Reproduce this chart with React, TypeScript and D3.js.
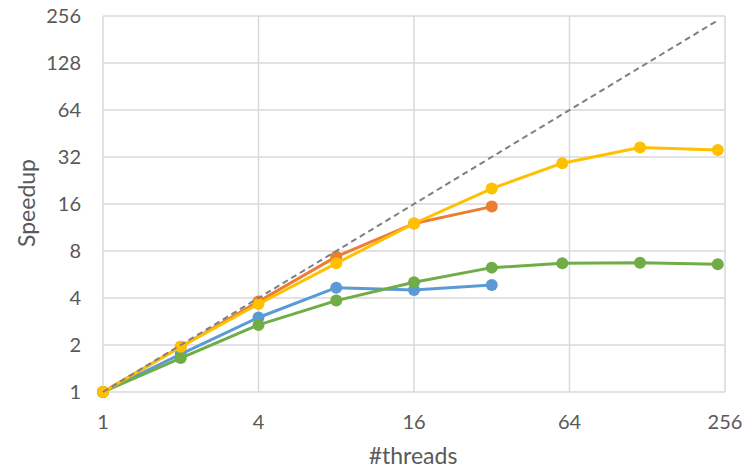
import React, { useEffect, useRef } from 'react';
import * as d3 from 'd3';

// thread counts on the x axis
const threads = [1, 2, 4, 8, 16, 32, 60, 120, 240];
const xTicks = [1, 4, 16, 64, 256];
const yTicks = [1, 2, 4, 8, 16, 32, 64, 128, 256];

// speedup series
const blueSpeedup = [1, 1.75, 3.0, 4.66, 4.5, 4.85];
const orangeSpeedup = [1, 1.95, 3.8, 7.36, 12.0, 15.4];
const greenSpeedup = [1, 1.65, 2.69, 3.85, 5.04, 6.26, 6.67, 6.73, 6.57];
const yellowSpeedup = [1, 1.95, 3.66, 6.67, 12.0, 20.1, 29.2, 36.8, 35.5];
const idealSpeedup = [1, 2, 4, 8, 16, 32, 60, 120, 240];

const seriesList = [
  { name: 'blue', values: blueSpeedup, color: '#5B9BD5' },
  { name: 'orange', values: orangeSpeedup, color: '#ED7D31' },
  { name: 'green', values: greenSpeedup, color: '#70AD47' },
  { name: 'yellow', values: yellowSpeedup, color: '#FFC000' },
];

const W = 745;
const H = 469;
const FONT = 'Lato, "Open Sans", sans-serif';
const TEXT = '#595959';

export default function App() {
  const ref = useRef<SVGSVGElement>(null);

  useEffect(() => {
    const svg = d3.select(ref.current);
    svg.selectAll('*').remove();

    // 绘图区
    const left = 103;
    const right = 725;
    const top = 16;
    const bottom = 392;

    const x = d3.scaleLog().base(2).domain([1, 256]).range([left, right]);
    const y = d3.scaleLog().base(2).domain([1, 256]).range([bottom, top]);

    // 网格
    const grid = svg.append('g');
    grid
      .selectAll('line.h')
      .data(yTicks)
      .enter()
      .append('line')
      .attr('x1', left)
      .attr('x2', right)
      .attr('y1', (d) => y(d))
      .attr('y2', (d) => y(d))
      .attr('stroke', '#d9d9d9')
      .attr('stroke-width', 1.5);
    grid
      .selectAll('line.v')
      .data(xTicks)
      .enter()
      .append('line')
      .attr('x1', (d) => x(d))
      .attr('x2', (d) => x(d))
      .attr('y1', top)
      .attr('y2', bottom)
      .attr('stroke', '#d9d9d9')
      .attr('stroke-width', 1.5);

    // 刻度文字
    svg
      .append('g')
      .selectAll('text')
      .data(yTicks)
      .enter()
      .append('text')
      .attr('x', 81)
      .attr('y', (d) => y(d))
      .attr('dy', '0.35em')
      .attr('text-anchor', 'end')
      .attr('fill', TEXT)
      .style('font-family', FONT)
      .style('font-size', '20px')
      .text((d) => d);

    svg
      .append('g')
      .selectAll('text')
      .data(xTicks)
      .enter()
      .append('text')
      .attr('x', (d) => x(d))
      .attr('y', 422)
      .attr('dy', '0.35em')
      .attr('text-anchor', 'middle')
      .attr('fill', TEXT)
      .style('font-family', FONT)
      .style('font-size', '20px')
      .text((d) => d);

    // 轴标题
    svg
      .append('text')
      .attr('x', 413)
      .attr('y', 456)
      .attr('dy', '0.35em')
      .attr('text-anchor', 'middle')
      .attr('fill', TEXT)
      .style('font-family', FONT)
      .style('font-size', '23px')
      .text('#threads');

    svg
      .append('text')
      .attr('transform', 'translate(27, 203) rotate(-90)')
      .attr('dy', '0.35em')
      .attr('text-anchor', 'middle')
      .attr('fill', TEXT)
      .style('font-family', FONT)
      .style('font-size', '23px')
      .text('Speedup');

    const line = d3
      .line<number>()
      .x((d, i) => x(threads[i]))
      .y((d) => y(d));

    // 各系列
    seriesList.forEach((s) => {
      const g = svg.append('g');
      g.append('path')
        .datum(s.values)
        .attr('d', line)
        .attr('fill', 'none')
        .attr('stroke', s.color)
        .attr('stroke-width', 3)
        .attr('stroke-linejoin', 'round');
      g.selectAll('circle')
        .data(s.values)
        .enter()
        .append('circle')
        .attr('cx', (d, i) => x(threads[i]))
        .attr('cy', (d) => y(d))
        .attr('r', 6)
        .attr('fill', s.color);
    });

    // 理想加速比
    svg
      .append('path')
      .datum(idealSpeedup)
      .attr('d', line)
      .attr('fill', 'none')
      .attr('stroke', '#7f7f7f')
      .attr('stroke-width', 2)
      .attr('stroke-dasharray', '6,4');
  }, []);

  return (
    <svg
      ref={ref}
      width={W}
      height={H}
      style={{ position: 'absolute', left: 0, top: 0, background: '#fff' }}
    />
  );
}
